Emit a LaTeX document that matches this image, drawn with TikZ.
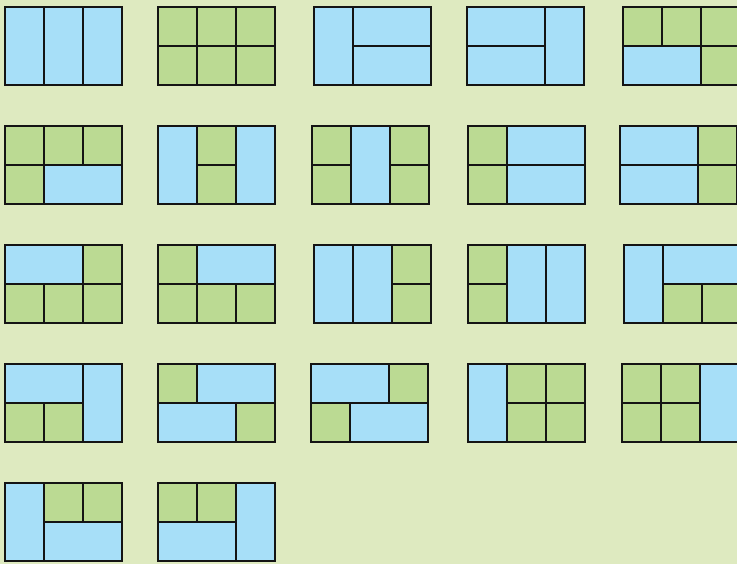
\documentclass[tikz,border=0pt]{standalone}
\definecolor{bgc}{RGB}{222,234,192}
\definecolor{bluec}{RGB}{167,223,248}
\definecolor{greenc}{RGB}{187,218,147}
\definecolor{edgec}{RGB}{20,20,20}
\tikzset{
  bluecell/.style={fill=bluec,draw=edgec,line width=1.1pt},
  greencell/.style={fill=greenc,draw=edgec,line width=1.1pt}
}
\newcommand\tileB[4]{\filldraw[bluecell] ({#1*39},{#2*39}) rectangle ++({#3*39},{#4*39});}
\newcommand\tileG[2]{\filldraw[greencell] ({#1*39},{#2*39}) rectangle ++(39,39);}
\begin{document}
\begin{tikzpicture}[x=1pt,y=-1pt]
\fill[bgc] (0,0) rectangle (737,564);
\clip (0,0) rectangle (737,564);
% Row 1
\begin{scope}[shift={(5,7)}]\tileB{0}{0}{1}{2}\tileB{1}{0}{1}{2}\tileB{2}{0}{1}{2}\end{scope}
\begin{scope}[shift={(158,7)}]\tileG{0}{0}\tileG{1}{0}\tileG{2}{0}\tileG{0}{1}\tileG{1}{1}\tileG{2}{1}\end{scope}
\begin{scope}[shift={(314,7)}]\tileB{0}{0}{1}{2}\tileB{1}{0}{2}{1}\tileB{1}{1}{2}{1}\end{scope}
\begin{scope}[shift={(467,7)}]\tileB{0}{0}{2}{1}\tileB{0}{1}{2}{1}\tileB{2}{0}{1}{2}\end{scope}
\begin{scope}[shift={(623,7)}]\tileG{0}{0}\tileG{1}{0}\tileG{2}{0}\tileB{0}{1}{2}{1}\tileG{2}{1}\end{scope}
% Row 2
\begin{scope}[shift={(5,126)}]\tileG{0}{0}\tileG{1}{0}\tileG{2}{0}\tileG{0}{1}\tileB{1}{1}{2}{1}\end{scope}
\begin{scope}[shift={(158,126)}]\tileB{0}{0}{1}{2}\tileG{1}{0}\tileG{1}{1}\tileB{2}{0}{1}{2}\end{scope}
\begin{scope}[shift={(312,126)}]\tileG{0}{0}\tileG{0}{1}\tileB{1}{0}{1}{2}\tileG{2}{0}\tileG{2}{1}\end{scope}
\begin{scope}[shift={(468,126)}]\tileG{0}{0}\tileG{0}{1}\tileB{1}{0}{2}{1}\tileB{1}{1}{2}{1}\end{scope}
\begin{scope}[shift={(620,126)}]\tileB{0}{0}{2}{1}\tileB{0}{1}{2}{1}\tileG{2}{0}\tileG{2}{1}\end{scope}
% Row 3
\begin{scope}[shift={(5,245)}]\tileB{0}{0}{2}{1}\tileG{2}{0}\tileG{0}{1}\tileG{1}{1}\tileG{2}{1}\end{scope}
\begin{scope}[shift={(158,245)}]\tileG{0}{0}\tileB{1}{0}{2}{1}\tileG{0}{1}\tileG{1}{1}\tileG{2}{1}\end{scope}
\begin{scope}[shift={(314,245)}]\tileB{0}{0}{1}{2}\tileB{1}{0}{1}{2}\tileG{2}{0}\tileG{2}{1}\end{scope}
\begin{scope}[shift={(468,245)}]\tileG{0}{0}\tileG{0}{1}\tileB{1}{0}{1}{2}\tileB{2}{0}{1}{2}\end{scope}
\begin{scope}[shift={(624,245)}]\tileB{0}{0}{1}{2}\tileB{1}{0}{2}{1}\tileG{1}{1}\tileG{2}{1}\end{scope}
% Row 4
\begin{scope}[shift={(5,364)}]\tileB{0}{0}{2}{1}\tileB{2}{0}{1}{2}\tileG{0}{1}\tileG{1}{1}\end{scope}
\begin{scope}[shift={(158,364)}]\tileG{0}{0}\tileB{1}{0}{2}{1}\tileB{0}{1}{2}{1}\tileG{2}{1}\end{scope}
\begin{scope}[shift={(311,364)}]\tileB{0}{0}{2}{1}\tileG{2}{0}\tileG{0}{1}\tileB{1}{1}{2}{1}\end{scope}
\begin{scope}[shift={(468,364)}]\tileB{0}{0}{1}{2}\tileG{1}{0}\tileG{2}{0}\tileG{1}{1}\tileG{2}{1}\end{scope}
\begin{scope}[shift={(622,364)}]\tileG{0}{0}\tileG{1}{0}\tileG{0}{1}\tileG{1}{1}\tileB{2}{0}{1}{2}\end{scope}
% Row 5
\begin{scope}[shift={(5,483)}]\tileB{0}{0}{1}{2}\tileG{1}{0}\tileG{2}{0}\tileB{1}{1}{2}{1}\end{scope}
\begin{scope}[shift={(158,483)}]\tileG{0}{0}\tileG{1}{0}\tileB{0}{1}{2}{1}\tileB{2}{0}{1}{2}\end{scope}
\end{tikzpicture}
\end{document}
